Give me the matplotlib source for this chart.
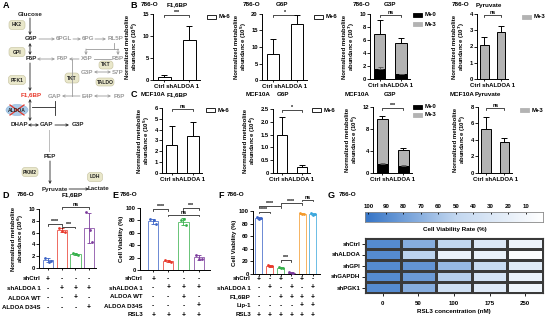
import matplotlib
matplotlib.use('Agg')
import matplotlib.pyplot as plt
import numpy as np
from matplotlib.colors import LinearSegmentedColormap
from matplotlib.patches import FancyBboxPatch, Ellipse, Rectangle
from matplotlib.transforms import blended_transform_factory

plt.rcParams['font.family'] = ['Liberation Sans', 'DejaVu Sans']
plt.rcParams['font.weight'] = 'bold'
plt.rcParams['axes.labelweight'] = 'bold'
plt.rcParams['axes.linewidth'] = 0.7
plt.rcParams['xtick.major.width'] = 0.6
plt.rcParams['ytick.major.width'] = 0.6
plt.rcParams['xtick.major.size'] = 2
plt.rcParams['ytick.major.size'] = 2
plt.rcParams['xtick.labelsize'] = 4.2
plt.rcParams['ytick.labelsize'] = 4.2
plt.rcParams['xtick.major.pad'] = 1
plt.rcParams['ytick.major.pad'] = 1

# ---------------- data ----------------
b_groups = ['Ctrl', 'shALDOA 1']
# panel B (786-O)
b_f16bp = [0.7, 9.2];  b_f16bp_err = [0.5, 3.1]
b_g6p = [7.8, 16.9];   b_g6p_err = [4.5, 2.9]
b_g3p_m0 = [1.6, 0.7]; b_g3p_m0_err = [0.2, 0.1]
b_g3p_tot = [6.9, 5.6]; b_g3p_tot_err = [2.2, 0.7]
b_pyr = [2.1, 2.9];    b_pyr_err = [0.5, 0.35]
# panel C (MCF10A)
c_f16bp = [2.6, 3.4];  c_f16bp_err = [1.7, 1.3]
c_g6p = [1.5, 0.22];   c_g6p_err = [0.68, 0.1]
c_g3p_m0 = [1.6, 1.2]; c_g3p_m0_err = [0.3, 0.2]
c_g3p_tot = [9.9, 4.1]; c_g3p_tot_err = [0.5, 0.5]
c_pyr = [5.3, 3.8];    c_pyr_err = [1.5, 0.5]

# panel D
d_points = [[1.7, 1.1, 1.2], [6.8, 6.3, 6.1], [2.6, 2.4, 2.2], [9.5, 6.5, 4.4]]
d_rows = ['shCtrl', 'shALDOA 1', 'ALDOA WT', 'ALDOA D34S']
d_signs = [['+', '-', '-', '-'], ['-', '+', '+', '+'], ['-', '-', '+', '-'], ['-', '-', '-', '+']]
# panel E
e_points = [[82, 80, 74], [16, 14, 13], [80, 82, 72], [25, 18, 18]]
e_rows = ['shCtrl', 'shALDOA 1', 'ALDOA WT', 'ALDOA D34S', 'RSL3']
e_signs = [['+', '-', '-', '-'], ['-', '+', '+', '+'], ['-', '-', '+', '-'], ['-', '-', '-', '+'], ['+', '+', '+', '+']]
# panel F
f_points = [[90, 88, 89], [15, 12, 13], [11, 10, 9], [2.5, 1.5, 2.0], [97, 96, 95], [97, 94, 96]]
f_rows = ['shCtrl', 'shALDOA 1', 'F1,6BP', 'Lip-1', 'RSL3']
f_signs = [['+', '-', '+', '-', '+', '-'], ['-', '+', '-', '+', '-', '+'], ['-', '-', '+', '+', '+', '+'],
           ['-', '-', '-', '-', '+', '+'], ['+', '+', '+', '+', '+', '+']]
# panel G
g_conc = ['0', '50', '100', '175', '250']
g_rows = ['shCtrl', 'shALDOA', 'shGPI', 'shGAPDH', 'shPGK1']
g_viab = [[90, 72, 50, 30, 15],
          [90, 52, 18, 18, 3],
          [90, 85, 66, 45, 25],
          [90, 82, 55, 35, 18],
          [90, 72, 40, 27, 13]]
g_cbar_ticks = [100, 90, 80, 70, 60, 50, 40, 30, 20, 10]

# ---------------- figure ----------------
W, H = 546, 321
fig = plt.figure(figsize=(W / 100, H / 100), dpi=100)


def px_ax(l, t, r, b):
    return fig.add_axes([l / W, 1 - b / H, (r - l) / W, (b - t) / H])


def ftext(x, y, s, **kw):
    kw.setdefault('fontsize', 4.5)
    kw.setdefault('ha', 'center')
    kw.setdefault('va', 'center')
    kw.setdefault('fontweight', 'bold')
    fig.text(x / W, 1 - y / H, s, **kw)


def bracket(ax, x1, x2, y, txt, h, fs=3.8):
    ax.plot([x1, x1, x2, x2], [y - h, y, y, y - h], color='black', lw=0.5, clip_on=False)
    ax.text((x1 + x2) / 2, y, txt, ha='center', va='bottom', fontsize=fs, fontweight='bold', clip_on=False)


def style_ax(ax):
    for s in ['top', 'right']:
        ax.spines[s].set_visible(False)


def metab(ax, vals, errs, ylim, yticks, sig, exp, m0=None, m0err=None, fill='white'):
    x = np.arange(2)
    vals = np.array(vals)
    if m0 is None:
        ax.bar(x, vals, 0.52, color=fill, edgecolor='black', lw=0.7, zorder=2)
    else:
        m0 = np.array(m0)
        ax.bar(x, m0, 0.52, color='black', edgecolor='black', lw=0.7, zorder=2)
        ax.bar(x, vals - m0, 0.52, bottom=m0, color='#b3b3b3', edgecolor='black', lw=0.7, zorder=2)
        ax.errorbar(x, m0, yerr=[[0, 0], m0err], fmt='none', ecolor='#555555', elinewidth=0.6,
                    capsize=1.8, capthick=0.6, zorder=3)
    ax.errorbar(x, vals, yerr=[[0, 0], errs], fmt='none', ecolor='black', elinewidth=0.7,
                capsize=2, capthick=0.7, zorder=1)
    ax.set_xlim(-0.45, 1.42)
    ax.set_ylim(*ylim)
    ax.set_yticks(yticks)
    ax.set_xticks(x, ['', ''])
    ax.tick_params(axis='x', length=1.5)
    tr = blended_transform_factory(ax.transData, ax.transAxes)
    ax.text(0.5, -0.06, ' '.join(b_groups), transform=tr, ha='center', va='top', fontsize=4.3,
            fontweight='bold')
    style_ax(ax)
    ax.set_ylabel('Normalized metabolite\nabundance (10$^{%s}$)' % exp, fontsize=4.3, labelpad=1.5,
                  linespacing=1.0)
    bracket(ax, 0, 1, ylim[1] * 0.99, sig, ylim[1] * 0.03)


def legend_box(x, y, label, fc):
    fig.patches.append(Rectangle((x / W, 1 - (y + 2.2) / H), 9 / W, 4.4 / H, transform=fig.transFigure,
                                 facecolor=fc, edgecolor='black' if fc != '#b3b3b3' else '#b3b3b3', lw=0.6))
    ftext(x + 12, y, label, ha='left', fontsize=4.3)


# ---- panel B ----
ftext(134, 5, 'B', fontsize=6.5)
ax = px_ax(153, 14, 200, 80)
metab(ax, b_f16bp, b_f16bp_err, (0, 15), [0, 5, 10, 15], '***', '6')
ftext(150, 5, '786-O'); ftext(177, 5, 'F1,6BP')
legend_box(207, 17, 'M+6', 'white')

ax = px_ax(262, 14, 307, 80)
metab(ax, b_g6p, b_g6p_err, (0, 20), [0, 5, 10, 15, 20], '*', '5')
ftext(252, 5, '786-O'); ftext(282, 5, 'G6P')
legend_box(314, 17, 'M+6', 'white')

ax = px_ax(370, 14, 410, 79)
metab(ax, b_g3p_tot, b_g3p_tot_err, (0, 10), [0, 2, 4, 6, 8, 10], 'ns', '7', m0=b_g3p_m0, m0err=b_g3p_m0_err)
ftext(362, 5, '786-O'); ftext(390, 5, 'G3P')
legend_box(413, 15, 'M+0', 'black')
legend_box(413, 24, 'M+3', '#b3b3b3')

ax = px_ax(477, 14, 508, 79)
metab(ax, b_pyr, b_pyr_err, (0, 4), [0, 1, 2, 3, 4], 'ns', '7', fill='#b3b3b3')
ftext(461, 5, '786-O'); ftext(489, 5, 'Pyruvate')
legend_box(522, 17, 'M+3', '#b3b3b3')

# ---- panel C ----
ftext(134, 95, 'C', fontsize=6.5)
ax = px_ax(162, 108, 202, 173)
metab(ax, c_f16bp, c_f16bp_err, (0, 6), [0, 1, 2, 3, 4, 5, 6], 'ns', '5')
ftext(153, 95, 'MCF10A'); ftext(177, 95, 'F1,6BP')
legend_box(206, 110, 'M+6', 'white')

ax = px_ax(273, 109, 310, 173)
metab(ax, c_g6p, c_g6p_err, (0, 2.5), [0, 0.5, 1.0, 1.5, 2.0, 2.5], '*', '4')
ax.set_yticklabels(['0', '0.5', '1.0', '1.5', '2.0', '2.5'])
ftext(258, 95, 'MCF10A'); ftext(283, 95, 'G6P')
legend_box(312, 110, 'M+6', 'white')

ax = px_ax(373, 107, 412, 173)
metab(ax, c_g3p_tot, c_g3p_tot_err, (0, 12), [0, 4, 8, 12], '***', '6', m0=c_g3p_m0, m0err=c_g3p_m0_err)
ftext(357, 95, 'MCF10A'); ftext(390, 95, 'G3P')
legend_box(413, 107, 'M+0', 'black')
legend_box(413, 115, 'M+3', '#b3b3b3')

ax = px_ax(478, 107, 512, 173)
metab(ax, c_pyr, c_pyr_err, (0, 8), [0, 2, 4, 6, 8], 'ns', '6', fill='#b3b3b3')
ftext(462, 95, 'MCF10A'); ftext(488, 95, 'Pyruvate')
legend_box(520, 110, 'M+3', '#b3b3b3')

# ---- panels D, E, F ----
pal = ['#3a62c6', '#e8392b', '#35b04a', '#7b3a9c', '#f39a2c', '#3aa6dc']
offs = [-0.2, 0.03, 0.2]


def dot_bars(ax, points, width, cols):
    for i, (p, c) in enumerate(zip(points, cols)):
        m = np.mean(p)
        s = np.std(p, ddof=1)
        ax.bar(i, m, width, color='white', edgecolor=c, lw=0.7, alpha=0.75, zorder=1)
        ax.errorbar(i, m, yerr=s, fmt='none', ecolor=c, elinewidth=0.6, capsize=1.5, capthick=0.6, zorder=2)
        ax.scatter(np.full(3, i) + np.array(offs) * width / 0.7, p, s=4, color=c, zorder=3, lw=0)
    style_ax(ax)
    ax.set_xticks(np.arange(len(points)), [''] * len(points))
    ax.tick_params(axis='x', length=1.5)


def table(ax, rows, signs, label_x, ys):
    tr = blended_transform_factory(ax.transData, fig.transFigure)
    for r, sg, y in zip(rows, signs, ys):
        ftext(label_x, y, r, ha='right', fontsize=4.4)
        for i, s in enumerate(sg):
            ax.text(i, 1 - y / H, s, transform=tr, ha='center', va='center', fontsize=4.8, fontweight='bold')


# D
ftext(6, 195, 'D', fontsize=6.5); ftext(26, 195, '786-O'); ftext(72, 195, 'F1,6BP')
ax = px_ax(39, 209, 96, 268)
dot_bars(ax, d_points, 0.75, pal[:4])
ax.set_xlim(-0.67, 3.5)
ax.set_ylim(0, 10); ax.set_yticks([0, 2, 4, 6, 8, 10])
ax.set_ylabel('Normalized metabolite\nabundance (10$^{6}$)', fontsize=4.3, labelpad=1.5, linespacing=1.0)
bracket(ax, 0, 1, 7.4, '****', 0.25)
bracket(ax, 1, 2, 7.0, '***', 0.25)
bracket(ax, 1, 3, 10.3, 'ns', 0.25)
table(ax, d_rows, d_signs, 41, [279, 288.5, 298, 307.5])

# E
ftext(115, 195, 'E', fontsize=6.5); ftext(129, 195, '786-O')
ax = px_ax(140, 208, 210, 270)
dot_bars(ax, e_points, 0.67, pal[:4])
ax.set_xlim(-0.87, 3.75)
ax.set_ylim(0, 100); ax.set_yticks([0, 20, 40, 60, 80, 100])
ax.set_ylabel('Cell Viability (%)', fontsize=4.3, labelpad=1.5)
bracket(ax, 0, 1, 98, '****', 2.5)
bracket(ax, 2, 3, 100, '***', 2.5)
bracket(ax, 1, 3, 89, 'ns', 2.5)
table(ax, e_rows, e_signs, 143, [279, 288, 297, 306, 315])

# F
ftext(221, 195, 'F', fontsize=6.5); ftext(236, 195, '786-O')
ax = px_ax(253, 211, 320, 274)
dot_bars(ax, f_points, 0.65, pal)
ax.set_xlim(-0.55, 5.65)
ax.set_ylim(0, 100); ax.set_yticks([0, 20, 40, 60, 80, 100])
ax.set_ylabel('Cell Viability (%)', fontsize=4.3, labelpad=1.5)
bracket(ax, 0, 1, 99, '****', 2.5)
bracket(ax, 0, 2, 108, '****', 2.5)
bracket(ax, 2, 4, 112, '****', 2.5)
bracket(ax, 4, 5, 118, 'ns', 2.5)
bracket(ax, 2, 3, 22, '***', 2.5)
table(ax, f_rows, f_signs, 251, [279, 288, 297, 306, 315])

# ---- panel G ----
ftext(331, 195, 'G', fontsize=6.5); ftext(348, 195, '786-O')
cmap = LinearSegmentedColormap.from_list('vb', ['#ffffff', '#c2d7f0', '#3a78c8'], N=256)
axc = px_ax(365, 212, 543, 222)
grad = np.linspace(102, 0, 256)[None, :]
axc.imshow(grad, aspect='auto', cmap=cmap, vmin=0, vmax=100, extent=(102, 0, 0, 1))
axc.set_xlim(102, 0)
axc.set_yticks([])
axc.set_xticks(g_cbar_ticks, [str(t) for t in g_cbar_ticks])
axc.xaxis.set_ticks_position('top')
axc.tick_params(axis='x', direction='in', length=1.5, labelsize=4.4, pad=2)
for s in axc.spines.values():
    s.set_color('#888888'); s.set_linewidth(0.6)
ftext(455, 230, 'Cell Viability Rate (%)', fontsize=4.5)

axg = px_ax(365, 238, 543, 293)
axg.pcolormesh(np.array(g_viab), cmap=cmap, vmin=0, vmax=100, edgecolors='#3a3a3a', linewidth=0.8)
axg.set_xlim(0, 5); axg.set_ylim(5, 0)
axg.set_xticks(np.arange(5) + 0.5, g_conc)
axg.set_yticks(np.arange(5) + 0.5, g_rows)
axg.tick_params(labelsize=4.4, length=2, pad=1.5)
axg.tick_params(axis='x', pad=4)
axg.set_xlabel('RSL3 concentration (nM)', fontsize=4.5, labelpad=2)
for s in axg.spines.values():
    s.set_color('#3a3a3a'); s.set_linewidth(0.8)

# ---- panel A: pathway diagram ----
axa = px_ax(0, 0, 132, 193)
axa.set_xlim(0, 132); axa.set_ylim(193, 0); axa.axis('off')
gray = '#9a9a9a'


def t(x, y, s, c='#222222', fs=4.5):
    axa.text(x, y, s, ha='center', va='center', fontsize=fs, color=c, fontweight='bold')


def arr(x1, y1, x2, y2, c='#222222', style='->', lw=0.6, ls='-'):
    axa.annotate('', xy=(x2, y2), xytext=(x1, y1),
                 arrowprops=dict(arrowstyle=style, color=c, lw=lw, shrinkA=0, shrinkB=0,
                                 mutation_scale=4, linestyle=ls))


def line(xs, ys, c='#222222', lw=0.6, ls='-'):
    axa.plot(xs, ys, color=c, lw=lw, ls=ls)


def box(x, y, s, w, h=9):
    axa.add_patch(FancyBboxPatch((x - w / 2, y - h / 2), w, h, boxstyle='round,pad=0,rounding_size=3',
                                 fc='#e9e7ca', ec='#c4c09c', lw=0.4))
    t(x, y, s, fs=3.6)


axa.text(6, 5, 'A', ha='center', va='center', fontsize=6.5, fontweight='bold')
t(30, 14, 'Glucose')
box(17, 25, 'HK2', 16)
arr(30, 18, 30, 35)
t(31, 39, 'G6P')
arr(39, 39, 55, 39, gray); t(64, 39, '6PGL', gray)
arr(73, 39, 81, 39, gray); t(88, 39, '6PG', gray)
arr(95, 39, 106, 39, gray); t(116, 39, 'RL5P', gray)
line([114, 114], [43, 49], gray); line([86, 118], [49, 49], gray)
arr(86, 49, 86, 55, gray); arr(118, 49, 118, 55, gray)
box(17, 52, 'GPI', 16)
arr(30, 43, 30, 55, style='<->')
t(31, 59, 'F6P')
arr(37, 59, 55, 59, gray, style='<->'); t(62, 59, 'F6P', gray)
t(87, 59, 'X5P', gray); t(118, 59, 'R5P', gray)
arr(79, 59, 69, 59, gray)
line([72, 72], [59, 96], gray)
box(72, 78, 'TKT', 14, 10)
arr(80, 96, 62, 96, gray)
t(55, 96, 'GAP', gray); t(87, 96, 'E4P', gray); t(119, 96, 'F6P', gray)
t(87, 72, 'G3P', gray); t(118, 72, 'S7P', gray)
arr(94, 72, 111, 72, gray, style='<->')
arr(94, 96, 111, 96, gray, style='<->')
line([94, 111], [59, 59], gray)
box(106, 65, 'TKT', 14, 8)
box(105, 82, 'TALDO', 18, 8)
box(17, 80, 'PFK1', 17)
arr(30, 63, 30, 91)
t(31, 95, 'F1,6BP', c='#e8392b')
axa.add_patch(Ellipse((17, 110), 22, 11, fc='#a9cbe9', ec='#8fb4d8', lw=0.4))
t(17, 110, 'ALDOA', fs=3.6)
line([10, 24], [105, 115], c='#e8392b', lw=0.9); line([10, 24], [115, 105], c='#e8392b', lw=0.9)
arr(30, 99, 30, 121, style='<->')
line([32, 55], [107, 107]); line([55, 55], [101, 115])
t(19, 125, 'DHAP')
arr(28, 125, 39, 125, style='<->')
t(47, 125, 'GAP')
arr(55, 125, 69, 125)
t(78, 125, 'G3P')
line([49, 49], [130, 152], c='#666666', ls=(0, (1.2, 1.2)))
t(50, 157, 'PEP')
box(30, 172, 'PKM2', 16)
arr(50, 161, 50, 184)
t(55, 189, 'Pyruvate')
box(95, 177, 'LDH', 15)
arr(69, 189, 89, 189)
t(99, 189, 'Lactate')

fig.savefig('out.png', dpi=100)
